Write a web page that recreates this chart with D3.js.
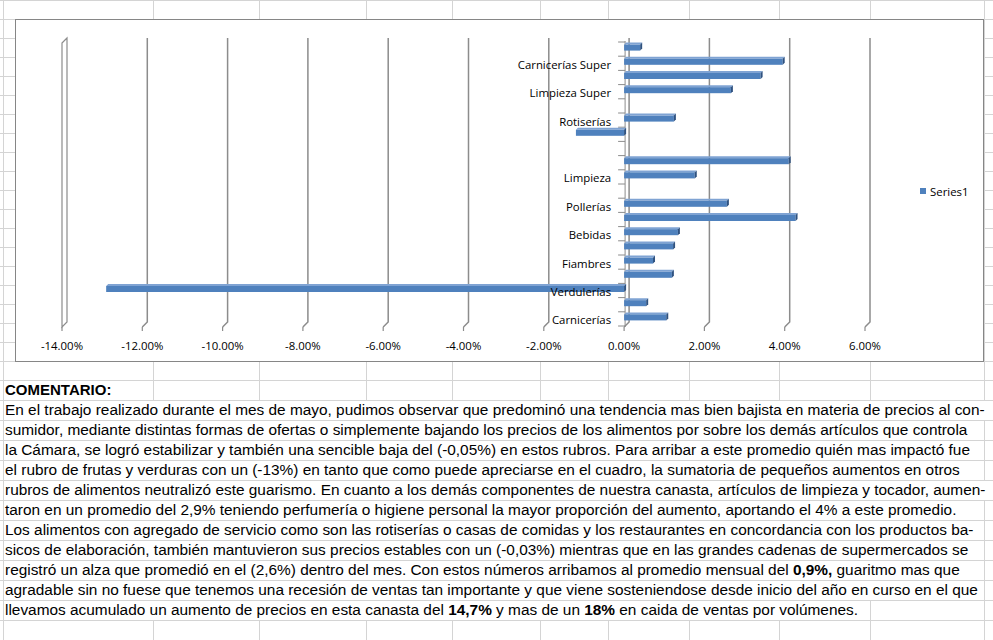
<!DOCTYPE html>
<html>
<head>
<meta charset="utf-8">
<script src="https://cdn.jsdelivr.net/npm/d3@7"></script>
<style>
  html, body { margin: 0; padding: 0; background: #fff; }
  svg { display: block; }
</style>
</head>
<body>
<div id="chart"></div>
<script>
// ---------- data ----------
const categories = ["Carnicerías", "", "Verdulerías", "", "Fiambres", "", "Bebidas", "", "Pollerías", "",
                    "Limpieza", "", "", "", "Rotiserías", "", "Limpieza Super", "", "Carnicerías Super", ""];
const values = [1.05, 0.55, -12.9, 1.19, 0.72, 1.22, 1.34, 4.27, 2.56, null,
                1.76, 4.10, null, -1.20, 1.24, null, 2.66, 3.40, 3.95, 0.40];
const tickValues = [-14, -12, -10, -8, -6, -4, -2, 0, 2, 4, 6];
const tickLabels = ["-14.00%", "-12.00%", "-10.00%", "-8.00%", "-6.00%", "-4.00%", "-2.00%", "0.00%", "2.00%", "4.00%", "6.00%"];
const seriesName = "Series1";
const commentTitle = "COMENTARIO:";
const commentLines = [
  [["En el trabajo realizado durante el mes de mayo, pudimos observar que predominó una tendencia mas bien bajista en materia de precios al con-", false]],
  [["sumidor, mediante distintas formas de ofertas o simplemente bajando los precios de los alimentos por sobre los demás artículos que controla", false]],
  [["la Cámara, se logró estabilizar y también una sencible baja del (-0,05%) en estos rubros. Para arribar a este promedio quién mas impactó fue", false]],
  [["el rubro de frutas y verduras con un (-13%) en tanto que como puede apreciarse en el cuadro, la sumatoria de pequeños aumentos en otros", false]],
  [["rubros de alimentos neutralizó este guarismo. En cuanto a los demás componentes de nuestra canasta, artículos de limpieza y tocador, aumen-", false]],
  [["taron en un promedio del 2,9% teniendo perfumería o higiene personal la mayor proporción del aumento, aportando el 4% a este promedio.", false]],
  [["Los alimentos con agregado de servicio como son las rotiserías o casas de comidas y los restaurantes en concordancia con los productos ba-", false]],
  [["sicos de elaboración, también mantuvieron sus precios estables con un (-0,03%) mientras que en las grandes cadenas de supermercados se", false]],
  [["registró un alza que promedió en el (2,6%) dentro del mes. Con estos números arribamos al promedio mensual del ", false], ["0,9%,", true], [" guaritmo mas que", false]],
  [["agradable sin no fuese que tenemos una recesión de ventas tan importante y que viene sosteniendose desde inicio del año en curso en el que", false]],
  [["llevamos acumulado un aumento de precios en esta canasta del ", false], ["14,7%", true], [" y mas de un ", false], ["18%", true], [" en caida de ventas por volúmenes.", false]]
];

// ---------- setup ----------
const W = 993, H = 640;
const svg = d3.select("#chart").append("svg").attr("width", W).attr("height", H);
const gridColor = "#d4d4d4";
const axisGray = "#8c8c8c";
const chartFont = "'Open Sans', sans-serif";
const chartFontSize = 11.4;
const textFont = "'Liberation Sans', Arial, sans-serif";

// ---------- spreadsheet grid ----------
const colLines = [3, 153, 259, 366, 452, 540, 608, 689, 779, 870, 984];
const rowLines = [];
for (let y = 0; y <= 380; y += 19) rowLines.push(y);
for (let y = 400; y <= 640; y += 20) rowLines.push(y);
const grid = svg.append("g");
grid.selectAll("line.row").data(rowLines).join("line")
  .attr("x1", 0).attr("x2", W).attr("y1", d => d + 0.5).attr("y2", d => d + 0.5)
  .attr("stroke", gridColor);
grid.selectAll("line.col").data(colLines).join("line")
  .attr("x1", d => d + 0.5).attr("x2", d => d + 0.5).attr("y1", 0).attr("y2", H)
  .attr("stroke", gridColor);
const covers = svg.append("g");

// ---------- chart area ----------
svg.append("rect").attr("x", 15.5).attr("y", 19.5).attr("width", 968).attr("height", 342)
  .attr("fill", "#fff").attr("stroke", "#868686").attr("stroke-width", 1);

const x = d3.scaleLinear().domain([-14, 6]).range([62, 865]);
const y = d3.scaleBand().domain(d3.range(categories.length)).range([324, 40]).paddingInner(0).paddingOuter(0);
const DX = 5, DY = -5;         // 3D depth offset (back wall)
const floorY = 327, topY = 43;

// back gridlines with floor diagonals
const g = svg.append("g");
tickValues.forEach((t, i) => {
  const xf = x(t);
  if (i === 0) {
    g.append("path")
      .attr("d", `M${xf},${topY} L${xf + DX},${topY + DY} L${xf + DX},${floorY + DY} L${xf},${floorY} Z`)
      .attr("fill", "#fff").attr("stroke", axisGray).attr("stroke-width", 1.2);
  } else {
    g.append("path")
      .attr("d", `M${xf + DX},${topY + DY} L${xf + DX},${floorY + DY} L${xf},${floorY}`)
      .attr("fill", "none").attr("stroke", axisGray).attr("stroke-width", 1.5);
  }
  g.append("line").attr("x1", xf).attr("x2", xf).attr("y1", floorY).attr("y2", floorY + 4)
    .attr("stroke", axisGray).attr("stroke-width", 1.2);
});

// x tick labels
g.selectAll("text.xt").data(tickValues).join("text")
  .attr("x", d => x(d)).attr("y", 345)
  .attr("text-anchor", "middle").attr("dominant-baseline", "central")
  .attr("font-family", chartFont).attr("font-size", chartFontSize).attr("fill", "#000")
  .text((d, i) => tickLabels[i]);

// category axis line at zero with ticks
const x0 = x(0);
g.append("line").attr("x1", x0 + 1).attr("x2", x0 + 1).attr("y1", 41).attr("y2", floorY)
  .attr("stroke", axisGray).attr("stroke-width", 1);
const bounds = d3.range(categories.length + 1).map(i => 40 + i * y.bandwidth());
g.selectAll("line.ct").data(bounds).join("line")
  .attr("x1", x0 - 6).attr("x2", x0 + 1)
  .attr("y1", d => d + 2).attr("y2", d => d + 2)
  .attr("stroke", axisGray).attr("stroke-width", 1);

// bars (3D look)
const front = "#4f81bd", topCol = "#7fa3d3", side = "#2f5280";
const barData = values.map((v, i) => ({ v, i })).filter(d => d.v !== null);
const bars = svg.append("g");
barData.forEach(d => {
  const c = y(d.i) + y.bandwidth() / 2;
  const xa = Math.min(x(0), x(d.v)), xb = Math.max(x(0), x(d.v));
  const t = c - 2.5, b = c + 3.5, dd = 2;
  bars.append("path")
    .attr("d", `M${xa},${t} L${xa + dd},${t - dd} L${xb + dd},${t - dd} L${xb},${t} Z`)
    .attr("fill", topCol);
  bars.append("rect").attr("x", xa).attr("y", t).attr("width", xb - xa).attr("height", b - t)
    .attr("fill", front);
  bars.append("path")
    .attr("d", `M${xb},${t} L${xb + dd},${t - dd} L${xb + dd},${b - dd} L${xb},${b} Z`)
    .attr("fill", side);
});

// category labels
svg.append("g").selectAll("text").data(categories.map((c, i) => ({ c, i })).filter(d => d.c !== ""))
  .join("text")
  .attr("x", x0 - 13).attr("y", d => y(d.i) + y.bandwidth() / 2 + 3)
  .attr("text-anchor", "end").attr("dominant-baseline", "central")
  .attr("font-family", chartFont).attr("font-size", chartFontSize).attr("fill", "#000")
  .text(d => d.c);

// legend
const lg = svg.append("g");
lg.append("rect").attr("x", 920).attr("y", 188).attr("width", 6).attr("height", 6).attr("fill", front);
lg.append("text").attr("x", 930).attr("y", 191.5).attr("dominant-baseline", "central")
  .attr("font-family", chartFont).attr("font-size", chartFontSize).attr("fill", "#000").text(seriesName);

// ---------- comment text ----------
const textTop = 380, rowH = 20;
const tg = svg.append("g").attr("font-family", textFont).attr("fill", "#000");
const title = tg.append("text").attr("x", 5).attr("y", textTop + 15).attr("font-size", 15).attr("font-weight", "bold")
  .text(commentTitle);
covers.append("rect").attr("x", 4).attr("y", textTop + 1)
  .attr("width", title.node().getComputedTextLength() + 2).attr("height", rowH - 1).attr("fill", "#fff");
commentLines.forEach((parts, i) => {
  const t = tg.append("text").attr("x", 5).attr("y", textTop + rowH * (i + 1) + 15).attr("font-size", 15.4);
  parts.forEach(([s, bold]) => {
    t.append("tspan").attr("font-weight", bold ? "bold" : null).text(s);
  });
  const w = t.node().getComputedTextLength();
  covers.append("rect").attr("x", 4).attr("y", textTop + rowH * (i + 1) + 1)
    .attr("width", w + 2).attr("height", rowH - 1).attr("fill", "#fff");
});
</script>
</body>
</html>
